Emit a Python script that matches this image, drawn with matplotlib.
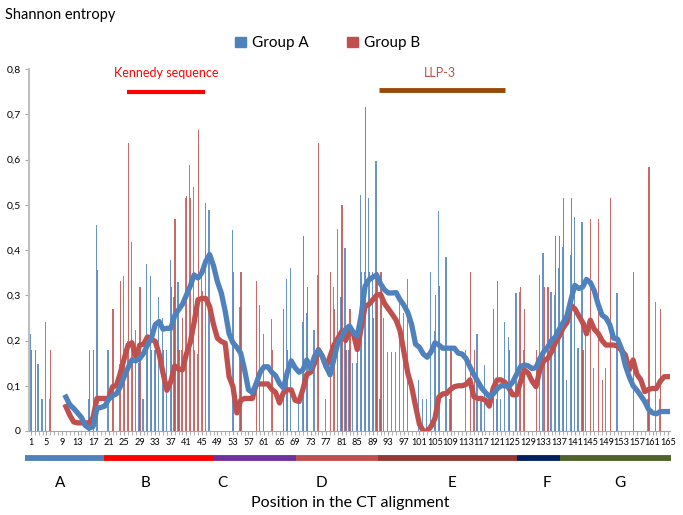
import matplotlib
matplotlib.use('Agg')
import matplotlib.pyplot as plt
from matplotlib.patches import Patch
from matplotlib.transforms import blended_transform_factory
import numpy as np

plt.rcParams['font.family'] = ['Lato', 'DejaVu Sans']

positions = np.arange(1, 166)

# Shannon entropy per alignment position
group_a = [
    0.215, 0, 0.148, 0.07, 0.24, 0.07, 0, 0, 0, 0,
    0, 0, 0, 0, 0, 0.07, 0, 0.455, 0, 0,
    0.18, 0, 0, 0.147, 0.342, 0.2, 0.418, 0.223, 0.15, 0.07,
    0.37, 0.342, 0.18, 0.297, 0.25, 0.18, 0.378, 0.297, 0.33, 0.18,
    0.516, 0.588, 0.54, 0.17, 0.35, 0.503, 0.488, 0, 0, 0,
    0, 0, 0.444, 0, 0.275, 0, 0, 0, 0, 0.278,
    0.214, 0, 0.248, 0, 0, 0, 0.335, 0.36, 0, 0.07,
    0.24, 0.26, 0, 0.223, 0.345, 0, 0.07, 0, 0.319, 0.446,
    0.297, 0.404, 0.18, 0.15, 0.15, 0.522, 0.352, 0.514, 0.352, 0.597,
    0.07, 0.25, 0.175, 0.175, 0.175, 0.282, 0.26, 0.337, 0, 0,
    0.113, 0.07, 0.07, 0.352, 0.22, 0.487, 0, 0.385, 0.07, 0,
    0, 0, 0.18, 0, 0.07, 0.214, 0.07, 0.146, 0, 0,
    0.07, 0.07, 0.24, 0.207, 0, 0.304, 0.307, 0.18, 0, 0,
    0, 0.345, 0.394, 0, 0.307, 0.30, 0.36, 0.407, 0.113, 0.39,
    0.472, 0.183, 0.461, 0.24, 0, 0.139, 0, 0, 0.139, 0,
    0, 0.304, 0, 0, 0, 0, 0, 0, 0, 0.07,
    0, 0.284, 0.07, 0, 0,
]
group_b = [
    0.18, 0.18, 0, 0, 0, 0.18, 0, 0, 0, 0,
    0, 0, 0, 0, 0, 0.18, 0.18, 0.355, 0, 0,
    0, 0.27, 0, 0.332, 0.15, 0.636, 0.18, 0, 0.318, 0,
    0.18, 0.18, 0.2, 0, 0.18, 0, 0.318, 0.468, 0.18, 0.25,
    0.52, 0.516, 0.18, 0.665, 0.31, 0, 0, 0, 0, 0,
    0, 0, 0.352, 0, 0.352, 0, 0, 0, 0.332, 0,
    0, 0, 0.18, 0, 0, 0.269, 0.18, 0, 0, 0,
    0.431, 0.318, 0, 0, 0.636, 0, 0, 0.352, 0.269, 0,
    0.5, 0.18, 0.27, 0, 0.18, 0.352, 0.717, 0.352, 0.25, 0.352,
    0.352, 0, 0, 0, 0, 0, 0, 0, 0, 0,
    0, 0, 0, 0, 0.3, 0.32, 0, 0, 0.18, 0,
    0, 0, 0, 0.352, 0.18, 0, 0, 0, 0, 0.269,
    0.332, 0, 0, 0.18, 0, 0, 0.318, 0.269, 0, 0,
    0.18, 0, 0.318, 0.318, 0, 0.431, 0.431, 0.514, 0, 0.514,
    0, 0, 0.18, 0, 0.468, 0, 0.468, 0.113, 0, 0.514,
    0, 0, 0, 0, 0, 0.352, 0, 0, 0, 0.583,
    0, 0, 0.269, 0, 0,
]

# moving-average trend lines, positions 10..165
trend_positions = np.arange(10, 166)
trend_a = [
    0.075, 0.058, 0.050, 0.040, 0.030, 0.012, 0.006, 0.010, 0.050, 0.052,
    0.055, 0.070, 0.078, 0.082, 0.098, 0.120, 0.140, 0.157, 0.155, 0.160,
    0.172, 0.190, 0.205, 0.235, 0.242, 0.225, 0.227, 0.227, 0.255, 0.268,
    0.280, 0.300, 0.320, 0.345, 0.338, 0.350, 0.375, 0.390, 0.365, 0.330,
    0.305, 0.265, 0.215, 0.195, 0.185, 0.172, 0.135, 0.091, 0.085, 0.105,
    0.130, 0.142, 0.142, 0.130, 0.122, 0.105, 0.095, 0.130, 0.155, 0.140,
    0.130, 0.135, 0.157, 0.138, 0.165, 0.178, 0.165, 0.142, 0.124, 0.160,
    0.195, 0.208, 0.225, 0.232, 0.218, 0.210, 0.255, 0.320, 0.334, 0.340,
    0.345, 0.325, 0.312, 0.305, 0.305, 0.306, 0.290, 0.278, 0.262, 0.235,
    0.192, 0.185, 0.170, 0.163, 0.175, 0.195, 0.190, 0.183, 0.183, 0.183,
    0.183, 0.172, 0.170, 0.160, 0.142, 0.125, 0.110, 0.095, 0.085, 0.076,
    0.082, 0.093, 0.100, 0.100, 0.098, 0.108, 0.125, 0.142, 0.146, 0.144,
    0.138, 0.140, 0.160, 0.175, 0.185, 0.200, 0.208, 0.225, 0.240, 0.255,
    0.290, 0.322, 0.315, 0.318, 0.335, 0.328, 0.310, 0.280, 0.256, 0.250,
    0.235, 0.205, 0.203, 0.182, 0.145, 0.120, 0.100, 0.090, 0.078, 0.065,
    0.048, 0.040, 0.038, 0.043, 0.043, 0.043,
]
trend_b = [
    0.054, 0.035, 0.020, 0.018, 0.018, 0.018, 0.018, 0.030, 0.072, 0.072,
    0.072, 0.072, 0.098, 0.100, 0.128, 0.160, 0.190, 0.195, 0.164, 0.190,
    0.192, 0.208, 0.203, 0.198, 0.170, 0.128, 0.090, 0.109, 0.144, 0.137,
    0.135, 0.170, 0.195, 0.240, 0.290, 0.293, 0.293, 0.275, 0.235, 0.205,
    0.198, 0.194, 0.120, 0.098, 0.040, 0.068, 0.072, 0.072, 0.072, 0.104,
    0.104, 0.104, 0.104, 0.092, 0.085, 0.062, 0.085, 0.091, 0.091, 0.068,
    0.065, 0.092, 0.125, 0.130, 0.150, 0.180, 0.165, 0.142, 0.165, 0.190,
    0.205, 0.220, 0.200, 0.220, 0.215, 0.180, 0.227, 0.275, 0.280, 0.290,
    0.300, 0.302, 0.282, 0.270, 0.258, 0.245, 0.222, 0.175, 0.128, 0.098,
    0.055, 0.015, 0.000, 0.000, 0.010, 0.028, 0.075, 0.082, 0.083, 0.092,
    0.098, 0.100, 0.100, 0.103, 0.113, 0.076, 0.072, 0.072, 0.068, 0.055,
    0.095, 0.113, 0.113, 0.108, 0.095, 0.080, 0.080, 0.108, 0.135, 0.128,
    0.110, 0.098, 0.135, 0.155, 0.160, 0.175, 0.195, 0.210, 0.228, 0.240,
    0.278, 0.270, 0.255, 0.240, 0.215, 0.245, 0.225, 0.216, 0.200, 0.190,
    0.190, 0.190, 0.188, 0.178, 0.168, 0.135, 0.157, 0.125, 0.113, 0.087,
    0.092, 0.094, 0.094, 0.110, 0.120, 0.120,
]

y_ticks = [0, 0.1, 0.2, 0.3, 0.4, 0.5, 0.6, 0.7, 0.8]
y_tick_labels = ['0', '0,1', '0,2', '0,3', '0,4', '0,5', '0,6', '0,7', '0,8']
x_tick_labels = list(range(1, 166, 4))

# regions of the CT alignment
region_names = ['A', 'B', 'C', 'D', 'E', 'F', 'G']
region_bounds = [-0.5, 19.7, 47.9, 69.2, 90.4, 126.0, 137.3, 165.7]
region_label_x = [8.5, 30.6, 50.4, 75.9, 109.4, 133.9, 152.6]
region_colors = ['#4F81BD', '#FF0000', '#7030A0', '#C0504D', '#953735', '#002060', '#4F6228']

kennedy_span = (25.7, 45.8)
llp3_span = (90.6, 123.0)

BLUE = '#4F81BD'
RED = '#C0504D'

fig = plt.figure(figsize=(6.83, 5.15), dpi=100)
ax = fig.add_axes([29 / 683, 84 / 515, 641 / 683, 362 / 515])

ax.bar(positions - 0.16, group_a, width=0.32, color=BLUE, alpha=0.85, linewidth=0, zorder=2)
ax.bar(positions + 0.1, group_b, width=0.32, color=RED, alpha=0.85, linewidth=0, zorder=2)
ax.plot(trend_positions, trend_a, color=BLUE, lw=3.8, zorder=4, solid_joinstyle='round')
ax.plot(trend_positions, trend_b, color=RED, lw=3.8, zorder=3, solid_joinstyle='round')

ax.set_xlim(0.5, 165.5)
ax.set_ylim(0, 0.8)
ax.set_yticks(y_ticks)
ax.set_yticklabels(y_tick_labels, fontsize=7.5)
ax.set_xticks(x_tick_labels)
ax.set_xticklabels([str(v) for v in x_tick_labels], fontsize=6.6)
ax.set_xticks(positions, minor=True)
ax.tick_params(axis='x', which='both', length=3, color='#A6A6A6', pad=2)
ax.tick_params(axis='y', length=3, color='#A6A6A6', pad=3)
for s in ['top', 'right']:
    ax.spines[s].set_visible(False)
ax.spines['left'].set_color('#BFBFBF')
ax.spines['left'].set_linewidth(1.5)
ax.spines['bottom'].set_color('#A6A6A6')

# region bar and letters under the axis
trans = blended_transform_factory(ax.transData, ax.transAxes)
for i, name in enumerate(region_names):
    ax.plot([region_bounds[i], region_bounds[i + 1]], [-0.075, -0.075], color=region_colors[i],
            lw=4.2, solid_capstyle='butt', transform=trans, clip_on=False)
    ax.text(region_label_x[i], -0.144, name, transform=trans, ha='center', va='center', fontsize=11)

# annotated sequences
ax.plot(kennedy_span, [0.749, 0.749], color='#FF0000', lw=3, solid_capstyle='butt')
ax.text(sum(kennedy_span) / 2, 0.791, 'Kennedy sequence', color='#FF0000', ha='center', va='center', fontsize=9)
ax.plot(llp3_span, [0.754, 0.754], color='#984807', lw=3.5, solid_capstyle='butt')
ax.text(sum(llp3_span) / 2 - 0.5, 0.791, 'LLP-3', color='#C0504D', ha='center', va='center', fontsize=9)

fig.text(0.007, 0.971, 'Shannon entropy', fontsize=10.5, va='center', ha='left')
fig.text(0.513, 0.024, 'Position in the CT alignment', fontsize=11.5, va='center', ha='center')

handles = [Patch(color=BLUE, label='Group A'), Patch(color=RED, label='Group B')]
fig.legend(handles=handles, loc='center', bbox_to_anchor=(0.48, 0.916), ncol=2, frameon=False,
           fontsize=11, handlelength=0.7, handleheight=0.7, handletextpad=0.4, columnspacing=2.5)

fig.savefig('out.png', dpi=100)
plt.close(fig)
